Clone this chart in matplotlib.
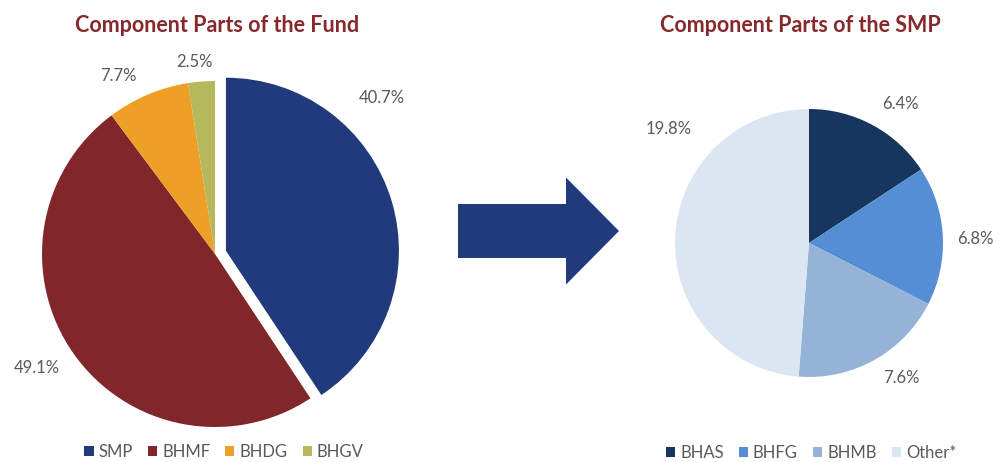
import matplotlib
matplotlib.use('Agg')
import matplotlib.pyplot as plt
from matplotlib import patches

# Data
fund_names = ['SMP', 'BHMF', 'BHDG', 'BHGV']
fund_values = [40.7, 49.1, 7.7, 2.5]
fund_colors = ['#213a7c', '#81262b', '#eea026', '#b5b95c']

smp_names = ['BHAS', 'BHFG', 'BHMB', 'Other*']
smp_values = [6.4, 6.8, 7.6, 19.8]
smp_colors = ['#17365d', '#558ed5', '#95b3d7', '#dce6f2']

title_color = '#86282c'
text_color = '#595959'

plt.rcParams['font.family'] = ['Lato', 'DejaVu Sans']

W, H = 993, 462
fig = plt.figure(figsize=(W / 100, H / 100), dpi=100)


def pie_axes(cx, cy, r, half=1.6):
    # axes whose data unit equals the pie radius (pixel coords measured from the top)
    s = half * r
    ax = fig.add_axes([(cx - s) / W, (H - cy - s) / H, 2 * s / W, 2 * s / H])
    return ax, half


# background axes for the arrow
bg = fig.add_axes([0, 0, 1, 1])
bg.set_xlim(0, W)
bg.set_ylim(H, 0)
bg.axis('off')
bg.add_patch(patches.FancyArrow(458, 231, 161, 0, width=54, head_width=107,
                                head_length=53, length_includes_head=True,
                                color='#213a7c', lw=0))

# left pie
ax1, lim1 = pie_axes(215, 254, 173)
w1, _ = ax1.pie(fund_values, colors=fund_colors, startangle=90, counterclock=False,
                explode=[0.066, 0, 0, 0], wedgeprops=dict(linewidth=0))
ax1.set_xlim(-lim1, lim1)
ax1.set_ylim(-lim1, lim1)
fund_label_pos = [(0.965, 0.90), (-1.03, -0.66), (-0.56, 1.03), (-0.12, 1.11)]
for v, (x, y) in zip(fund_values, fund_label_pos):
    ax1.text(x, y, f'{v:.1f}%', ha='center', va='center', fontsize=12, color=text_color)

# right pie
ax2, lim2 = pie_axes(809, 243, 134)
w2, _ = ax2.pie(smp_values, colors=smp_colors, startangle=90, counterclock=False,
                wedgeprops=dict(linewidth=0))
ax2.set_xlim(-lim2, lim2)
ax2.set_ylim(-lim2, lim2)
smp_label_pos = [(0.68, 1.04), (1.24, 0.03), (0.69, -1.01), (-1.05, 0.85)]
for v, (x, y) in zip(smp_values, smp_label_pos):
    ax2.text(x, y, f'{v:.1f}%', ha='center', va='center', fontsize=12, color=text_color)

# titles
fig.text(217 / W, 1 - 26 / H, 'Component Parts of the Fund', ha='center', va='center',
         fontsize=15.5, fontweight='bold', color=title_color)
fig.text(800 / W, 1 - 26 / H, 'Component Parts of the SMP', ha='center', va='center',
         fontsize=15.5, fontweight='bold', color=title_color)

# legends
leg_kw = dict(loc='center', ncol=4, frameon=False, fontsize=12, handlelength=0.55,
              handleheight=0.55, handletextpad=0.3, columnspacing=0.9,
              labelcolor=text_color)
fig.legend(w1, fund_names, bbox_to_anchor=(224 / W, 1 - 452 / H), **leg_kw)
fig.legend(w2, smp_names, bbox_to_anchor=(811 / W, 1 - 453 / H), **leg_kw)

fig.savefig('out.png', dpi=100)
